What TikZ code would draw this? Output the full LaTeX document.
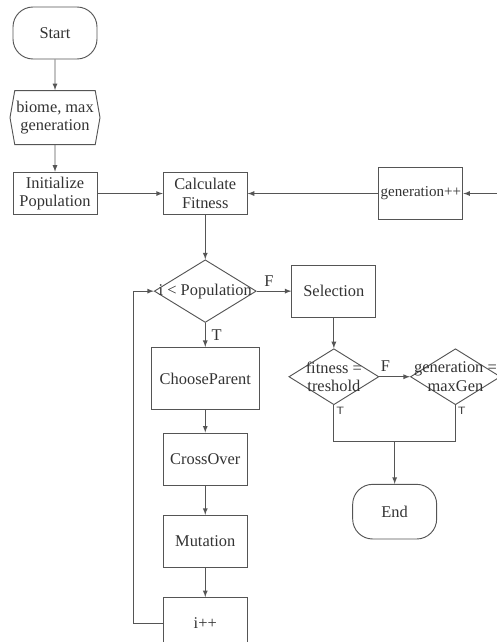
\documentclass[tikz,border=0pt]{standalone}
\usepackage{fontspec}
\setmainfont{Liberation Serif}
\usepackage{tikz}
\usetikzlibrary{positioning,shapes,arrows,calc}
\definecolor{linegray}{HTML}{555555}
\definecolor{textgray}{HTML}{333333}

\begin{document}
\begin{tikzpicture}
  [
      x=0.75pt, y=-0.75pt,
      color=linegray, line width=0.7pt,
      every node/.style={font=\fontsize{12.3}{14}\selectfont, text=textgray},
      >=latex,
      terminal/.style={draw, rectangle, rounded corners=15pt, minimum width=63pt, minimum height=39pt},
      io/.style={signal, signal to=west and east, signal pointer angle=160, draw, align=center, minimum width=67.5pt, minimum height=40.5pt, inner sep=1pt},
      process/.style={draw, rectangle, align=center, minimum width=63pt, minimum height=39pt, inner sep=2pt},
      decision/.style={diamond, draw, minimum width=67.5pt, minimum height=42pt, inner sep=0pt, label={[align=center, inner sep=0pt]center:#1}},
      tiny label/.style={font=\sffamily\fontsize{8}{9}\selectfont, inner sep=1.5pt},
    ]
    \useasboundingbox (0,0) rectangle (496,642);

    \node (start) [terminal] at (55,33) {Start};
    \node (input) [io, below=23pt of start] {biome, max\\generation};
    \node (init) [process, minimum height=32pt, below=20pt of input] {Initialize\\Population};
    \node (fitness) [process, minimum height=32pt, right=49pt of init] {Calculate\\Fitness};
    \node (gen) [process, inner sep=1pt, font=\fontsize{11.3}{13}\selectfont, right=98pt of fitness] {generation++};
    \coordinate [right=25.5pt of gen.east] (back);

    \node (pop) [decision={i < Population}, minimum width=76.5pt, minimum height=47pt, below=33pt of fitness] {};
    \node (sel) [process, right=26pt of pop] {Selection};
    \node (goal) [decision={fitness =\\treshold}, below=23pt of sel] {};
    \node (maxgen) [decision={generation =\\maxGen}, right=23pt of goal] {};
    \coordinate (merge) at ($(goal.south)!0.5!(maxgen.south)+(0,-27pt)$);
    \node (end) [terminal, minimum height=41pt, below=32pt of merge] {End};

    \node (choose) [process, minimum width=81pt, minimum height=46.5pt, below=18pt of pop] {ChooseParent};
    \node (cross) [process, below=17pt of choose] {CrossOver};
    \node (mut) [process, below=22pt of cross] {Mutation};
    \node (inc) [process, below=22pt of mut] {i++};

    \foreach \i/\j in {start/input,input/init,init/fitness,back/gen,gen/fitness,fitness/pop,pop/choose,choose/cross,cross/mut,mut/inc,sel/goal}
      \draw [->] (\i) -- (\j);
    \draw [->] (pop) -- node[above, pos=0.35] {F} (sel);
    \draw [->] (goal) -- node[above, pos=0.2] {F} (maxgen);
    \node [right=1pt of $(pop.south)!0.5!(choose.north)$] {T};
    \draw [->] (inc.west) -- ++(-29,0) |- (pop.west);
    \draw (goal.south) |- (merge) -| (maxgen.south);
    \draw [->] (merge) -- (end);
    \node [tiny label, anchor=north west] at (goal.south) {T};
    \node [tiny label, anchor=north west] at (maxgen.south) {T};
  \end{tikzpicture}
\end{document}
